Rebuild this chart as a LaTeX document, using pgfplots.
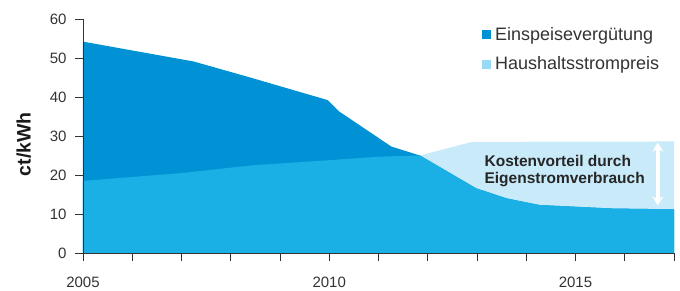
\documentclass[border=0pt]{standalone}
\usepackage{fontspec}
\setmainfont{Liberation Sans}
\usepackage{pgfplots}
\pgfplotsset{compat=1.18}
\usetikzlibrary{arrows.meta}
\definecolor{darkb}{RGB}{0,146,213}
\definecolor{medb}{RGB}{26,175,229}
\definecolor{lightb}{RGB}{200,234,249}
\definecolor{legl}{RGB}{152,218,246}
\definecolor{axc}{RGB}{51,51,51}
\begin{document}
\begin{tikzpicture}
\begin{axis}[
  scale only axis,
  width=591pt, height=234pt,
  xmin=2005, xmax=2017, ymin=0, ymax=60,
  axis lines*=left,
  axis line style={axc, line width=0.9pt},
  axis on top,
  xtick={2005,2006,...,2017},
  xticklabels={2005,,,,,2010,,,,,2015,,},
  ytick={0,10,...,60},
  tick align=outside,
  major tick length=8pt,
  tick style={axc, line width=0.9pt},
  /pgf/number format/assume math mode=true,
  ticklabel style={font=\fontsize{15}{17}\selectfont, text=axc},
  xticklabel style={yshift=-12pt},
  yticklabel style={xshift=-5pt},
  ylabel={\bfseries ct/kWh},
  ylabel style={at={(ticklabel cs:0.465)}, font=\fontsize{19.5}{21}\selectfont, text=black!90, yshift=12pt},
  legend style={draw=none, fill=none, at={(axis cs:2013.1,57.9)}, anchor=north west,
    font=\fontsize{18}{20}\selectfont, row sep=15pt, inner sep=0pt,
    nodes={inner xsep=4pt, inner ysep=0pt}, text=axc,
    legend cell align=left},
  legend image code/.code={\path[#1] (0pt,-4.5pt) rectangle (9pt,4.5pt);},
]
% Haushaltsstrompreis (total area)
\addplot[draw=none, fill=lightb, forget plot] coordinates {
 (2005,18.5) (2007,20.5) (2008.45,22.5) (2010,23.8) (2011,24.7) (2011.84,25.0)
 (2012.9,28.5) (2017,28.6)} \closedcycle;
% Einspeiseverguetung
\addplot[draw=none, fill=darkb, forget plot] coordinates {
 (2005,54.2) (2007.25,49.1) (2008.45,44.8) (2009.97,39.2) (2010.2,36.3)
 (2011.26,27.3) (2011.84,25.0) (2012.98,16.6) (2013.6,14.0) (2014.27,12.3)
 (2015.75,11.4) (2017,11.2)} \closedcycle;
% overlap (minimum of both)
\addplot[draw=none, fill=medb, forget plot] coordinates {
 (2005,18.5) (2007,20.5) (2008.45,22.5) (2010,23.8) (2011,24.7) (2011.84,25.0)
 (2012.98,16.6) (2013.6,14.0) (2014.27,12.3) (2015.75,11.4) (2017,11.2)} \closedcycle;
\addlegendimage{fill=darkb, draw=none}
\addlegendentry{Einspeisevergütung}
\addlegendimage{fill=legl, draw=none}
\addlegendentry{Haushaltsstrompreis}
\draw[white, line width=3.5pt, {Stealth[width=11pt,length=9pt]}-{Stealth[width=11pt,length=9pt]}]
  (axis cs:2016.67,28.3) -- (axis cs:2016.67,12.2);
\node[anchor=north west, align=left, inner sep=0pt, font=\bfseries\fontsize{15.5}{17}\selectfont, text=black!85]
  at (axis cs:2013.15,25.2) {Kostenvorteil durch\\Eigenstromverbrauch};
\end{axis}
\pgfresetboundingbox
\path[use as bounding box] ([xshift=-83pt,yshift=-37pt]current axis.south west)
  rectangle ([xshift=6pt,yshift=19pt]current axis.north east);
\end{tikzpicture}
\end{document}
